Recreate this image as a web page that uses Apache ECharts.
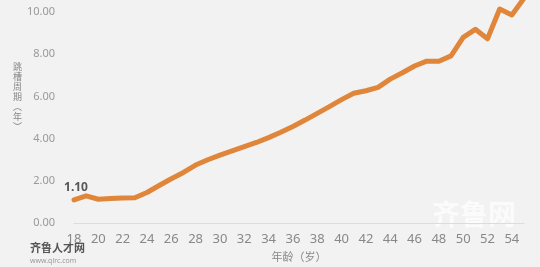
<!DOCTYPE html>
<html><head><meta charset="utf-8">
<script src="https://cdn.jsdelivr.net/npm/echarts@6/dist/echarts.min.js"></script>
<style>html,body{margin:0;padding:0;background:#f2f2f2}#c{width:540px;height:267px}</style>
</head><body><div id="c"></div>
<script>
var ages = ['18','19','20','21','22','23','24','25','26','27','28','29','30','31','32','33','34','35','36','37','38','39','40','41','42','43','44','45','46','47','48','49','50','51','52','53','54','55'];
var cycle = [1.10,1.29,1.13,1.16,1.19,1.20,1.45,1.78,2.10,2.40,2.75,3.00,3.22,3.42,3.62,3.82,4.05,4.30,4.58,4.88,5.20,5.52,5.85,6.15,6.27,6.43,6.82,7.12,7.44,7.67,7.67,7.92,8.80,9.18,8.73,10.14,9.86,10.65];
var yTicks = {min:0, max:10, interval:2};
var xName = '年龄（岁）';
var yNameChars = ['跳','槽','周','期','︵','年','︶'];
var chart = echarts.init(document.getElementById('c'));
chart.setOption({
  backgroundColor:'#f2f2f2',
  animation:false,
  grid:{left:74,right:16,top:12,bottom:43},
  xAxis:{type:'category',data:ages,boundaryGap:false,
    axisLine:{lineStyle:{color:'#dcdcdc',width:1}},axisTick:{show:false},
    axisLabel:{interval:1,color:'#888',fontSize:13,margin:10,fontFamily:'Noto Sans'},
    name:xName,nameLocation:'middle',nameGap:27,
    nameTextStyle:{color:'#888',fontSize:11,fontFamily:'Noto Sans CJK SC'}},
  yAxis:{type:'value',min:yTicks.min,max:yTicks.max,interval:yTicks.interval,
    axisLine:{show:false},axisTick:{show:false},splitLine:{show:false},
    axisLabel:{color:'#999',fontSize:11,margin:19,fontFamily:'Noto Sans',formatter:function(v){return v.toFixed(2);}}},
  graphic:[
    {type:'text',left:13,top:62,style:{text:yNameChars.join('\n'),fill:'#888',font:'9px "Noto Sans CJK SC"',lineHeight:10}},
    {type:'text',left:432,top:200,style:{text:'齐鲁网',fill:'rgba(255,255,255,0.7)',font:'bold 28px "Noto Sans CJK SC"'}},
    {type:'text',left:30,top:242,style:{text:'齐鲁人才网',fill:'#555',font:'bold 11px "Noto Sans CJK SC"'}},
    {type:'text',left:30,top:257,style:{text:'www.qlrc.com',fill:'#999',font:'7px "Noto Sans"'}}
  ],
  series:[{type:'line',data:cycle,clip:false,symbol:'circle',symbolSize:0,showSymbol:true,smooth:false,
    itemStyle:{color:'#e0863a'},
    lineStyle:{color:'#e0863a',width:5,cap:'round',join:'round'},
    label:{show:true,position:'top',distance:6,offset:[2,0],fontWeight:'bold',color:'#555',fontSize:12,fontFamily:'Noto Sans',
      formatter:function(p){return p.dataIndex===0?Number(p.value).toFixed(2):'';}}
  }]
});
</script></body></html>
